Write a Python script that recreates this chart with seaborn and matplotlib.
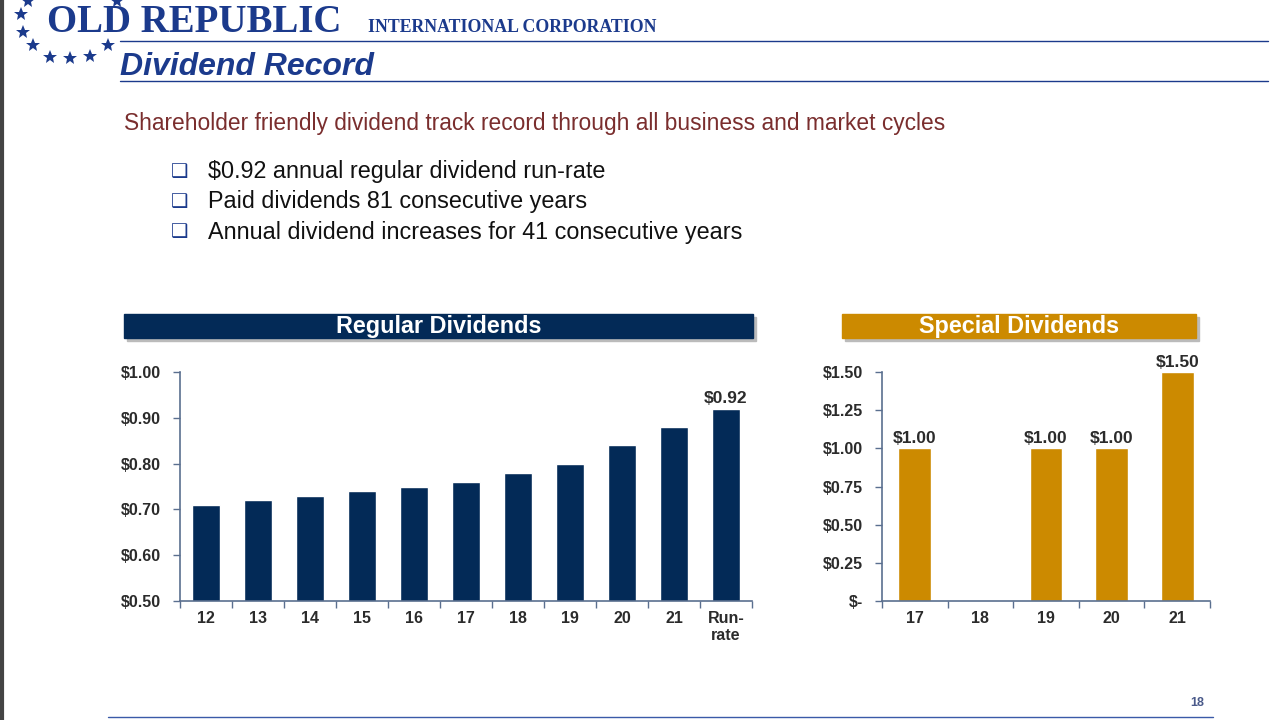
import matplotlib
matplotlib.use("Agg")
import matplotlib.pyplot as plt
from matplotlib.patches import Rectangle
from matplotlib.ticker import FixedLocator
import seaborn as sns
import pandas as pd

# ---------------- data ----------------
regular_years = ["12", "13", "14", "15", "16", "17", "18", "19", "20", "21", "Run-\nrate"]
regular_values = [0.71, 0.72, 0.73, 0.74, 0.75, 0.76, 0.78, 0.80, 0.84, 0.88, 0.92]
regular_yticks = [0.50, 0.60, 0.70, 0.80, 0.90, 1.00]

special_years = ["17", "18", "19", "20", "21"]
special_values = [1.00, 0.00, 1.00, 1.00, 1.50]
special_yticks = [0.0, 0.25, 0.50, 0.75, 1.00, 1.25, 1.50]

bullets = ["$0.92 annual regular dividend run-rate",
           "Paid dividends 81 consecutive years",
           "Annual dividend increases for 41 consecutive years"]

NAVY = "#032a57"
GOLD = "#cc8a00"
BLUE = "#1b3a8c"
SPINE = "#5a6f8f"
TICKTXT = "#2b2b2b"

sns.set_theme(style="white")
plt.rcParams['font.family'] = ['Liberation Sans', 'DejaVu Sans']

W, H = 1280, 720
fig = plt.figure(figsize=(12.8, 7.2), dpi=100)

def fx(x): return x / W
def fy(y): return 1 - y / H

# left border
fig.add_artist(plt.Line2D([fx(2), fx(2)], [0, 1], color="#444444", lw=3))

# stars logo (markers)
star_x = [28, 21, 23, 33, 50, 70, 90, 108, 117]
star_y = [1, 14, 32, 45, 57, 58, 56, 45, 1]
fig.add_artist(plt.Line2D([fx(x) for x in star_x], [fy(y) for y in star_y], ls="none",
                          marker="*", markersize=10, color=BLUE, markeredgewidth=0))

fig.text(fx(47), fy(32), "OLD REPUBLIC", color=BLUE, fontsize=28, fontweight="bold",
         family=["Liberation Serif"], ha="left", va="baseline")
fig.text(fx(368), fy(32), "INTERNATIONAL CORPORATION", color=BLUE, fontsize=12.8,
         fontweight="bold", family=["Liberation Serif"], ha="left", va="baseline")
fig.add_artist(plt.Line2D([fx(120), fx(1268)], [fy(41), fy(41)], color=BLUE, lw=1))
fig.text(fx(120), fy(75), "Dividend Record", color=BLUE, fontsize=23, fontweight="bold",
         style="italic", ha="left", va="baseline")
fig.add_artist(plt.Line2D([fx(120), fx(1268)], [fy(81), fy(81)], color=BLUE, lw=1))

fig.text(fx(124), fy(130), "Shareholder friendly dividend track record through all business and market cycles",
         color="#7a2e2e", fontsize=16.4, ha="left", va="baseline")

for i, b in enumerate(bullets):
    y = [170, 200, 231][i]
    fig.text(fx(180), fy(y + 1), "❑", color=BLUE, fontsize=14, ha="center", va="center",
             family=["DejaVu Sans"])
    fig.text(fx(208), fy(y + 8), b, color="#111111", fontsize=16.8, ha="left", va="baseline")

# header boxes
def header(x0, x1, color, text):
    y0, y1 = 314, 338
    shadow = Rectangle((fx(x0 + 3), fy(y1 + 3)), fx(x1 - x0), (y1 - y0) / H,
                       transform=fig.transFigure, color="#bbbbbb", zorder=0)
    fig.add_artist(shadow)
    r = Rectangle((fx(x0), fy(y1)), fx(x1 - x0), (y1 - y0) / H,
                  transform=fig.transFigure, color=color, zorder=1)
    fig.add_artist(r)
    fig.text(fx((x0 + x1) / 2), fy(333), text, color="white", fontsize=16.8,
             fontweight="bold", ha="center", va="baseline", zorder=2)

header(124, 753, NAVY, "Regular Dividends")
header(842, 1196, GOLD, "Special Dividends")

def style_axis(ax, n):
    sns.despine(ax=ax)
    for s in ["left", "bottom"]:
        ax.spines[s].set_color(SPINE)
        ax.spines[s].set_linewidth(1.2)
    ax.set_xlim(-0.5, n - 0.5)
    ax.xaxis.set_minor_locator(FixedLocator([i - 0.5 for i in range(n + 1)]))
    ax.tick_params(axis="x", which="major", length=0, pad=7, labelsize=11.5, labelcolor=TICKTXT)
    ax.tick_params(axis="x", which="minor", length=5, width=1, color=SPINE, direction="out", bottom=True)
    ax.tick_params(axis="y", length=5, width=1, color=SPINE, direction="out", left=True,
                   labelsize=11.5, labelcolor=TICKTXT, pad=8.5)
    for lab in ax.get_xticklabels() + ax.get_yticklabels():
        lab.set_fontweight("bold")
    ax.set_xlabel("")
    ax.set_ylabel("")
    ax.grid(False)

# regular chart
ax1 = fig.add_axes([fx(180), fy(601), fx(752 - 180), (601 - 372) / H])
df1 = pd.DataFrame({"year": regular_years, "value": regular_values})
sns.barplot(data=df1, x="year", y="value", color=NAVY, width=0.52, ax=ax1, saturation=1)
ax1.set_ylim(0.5, 1.0)
ax1.set_yticks(regular_yticks)
ax1.set_yticklabels([f"${v:.2f}" for v in regular_yticks])
style_axis(ax1, len(regular_years))
ax1.text(len(regular_years) - 1, regular_values[-1] + 0.005, f"${regular_values[-1]:.2f}",
         ha="center", va="bottom", fontsize=12.5, fontweight="bold", color=TICKTXT)

# special chart
ax2 = fig.add_axes([fx(882), fy(601), fx(1210 - 882), (601 - 372) / H])
df2 = pd.DataFrame({"year": special_years, "value": special_values})
sns.barplot(data=df2, x="year", y="value", color=GOLD, width=0.5, ax=ax2, saturation=1)
ax2.set_ylim(0, 1.5)
ax2.set_yticks(special_yticks)
ax2.set_yticklabels(["$-" if v == 0 else f"${v:.2f}" for v in special_yticks])
style_axis(ax2, len(special_years))
for i, v in enumerate(special_values):
    if v > 0:
        ax2.text(i, v + 0.015, f"${v:.2f}", ha="center", va="bottom", fontsize=12.5,
                 fontweight="bold", color=TICKTXT, clip_on=False)

# footer
fig.text(fx(1197), fy(703), "18", color="#4a5a8a", fontsize=9, fontweight="bold",
         ha="center", va="center")
fig.add_artist(plt.Line2D([fx(108), fx(1213)], [fy(717), fy(717)], color="#3a5aa8", lw=1))

fig.savefig("out.png", dpi=100)
